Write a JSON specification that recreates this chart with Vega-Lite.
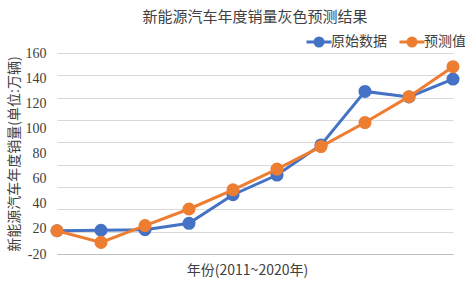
{
  "$schema": "https://vega.github.io/schema/vega-lite/v6.json",
  "autosize": "none",
  "width": 396,
  "height": 201,
  "padding": {"left": 57, "top": 53, "right": 12, "bottom": 29},
  "background": "white",
  "config": {"view": {"stroke": null}},
  "title": {
    "text": "新能源汽车年度销量灰色预测结果",
    "font": "Noto Sans CJK SC",
    "fontSize": 15,
    "fontWeight": "normal",
    "color": "#404040",
    "anchor": "middle",
    "offset": 3
  },
  "data": {
    "values": [
      {"year": "2011", "series": "原始数据", "value": 0.82},
      {"year": "2012", "series": "原始数据", "value": 1.28},
      {"year": "2013", "series": "原始数据", "value": 1.76},
      {"year": "2014", "series": "原始数据", "value": 7.48},
      {"year": "2015", "series": "原始数据", "value": 33.1},
      {"year": "2016", "series": "原始数据", "value": 50.7},
      {"year": "2017", "series": "原始数据", "value": 77.7},
      {"year": "2018", "series": "原始数据", "value": 125.6},
      {"year": "2019", "series": "原始数据", "value": 120.6},
      {"year": "2020", "series": "原始数据", "value": 136.7},
      {"year": "2011", "series": "预测值", "value": 0.82},
      {"year": "2012", "series": "预测值", "value": -9.6},
      {"year": "2013", "series": "预测值", "value": 5.4},
      {"year": "2014", "series": "预测值", "value": 20.3},
      {"year": "2015", "series": "预测值", "value": 37.5},
      {"year": "2016", "series": "预测值", "value": 56.0},
      {"year": "2017", "series": "预测值", "value": 76.2},
      {"year": "2018", "series": "预测值", "value": 97.7},
      {"year": "2019", "series": "预测值", "value": 120.9},
      {"year": "2020", "series": "预测值", "value": 147.7}
    ]
  },
  "encoding": {
    "x": {
      "field": "year",
      "type": "ordinal",
      "scale": {"type": "point", "padding": 0},
      "axis": {
        "title": "年份(2011~2020年)",
        "titleFont": "Noto Sans CJK SC",
        "titleFontSize": 14,
        "titleFontWeight": "normal",
        "titleColor": "#404040",
        "titlePadding": 9,
        "titleX": 190,
        "labels": false,
        "ticks": false,
        "domain": false,
        "grid": false
      }
    },
    "y": {
      "field": "value",
      "type": "quantitative",
      "scale": {"domain": [-20, 160], "nice": false, "zero": false},
      "axis": null
    },
    "color": {
      "field": "series",
      "type": "nominal",
      "scale": {"domain": ["原始数据", "预测值"], "range": ["#4472C4", "#ED7D31"]},
      "legend": {
        "title": null,
        "orient": "none",
        "direction": "horizontal",
        "legendX": 248,
        "legendY": -25,
        "symbolType": "M-1,0H1M-0.32,0A0.32,0.32 0 1,1 0.32,0A0.32,0.32 0 1,1 -0.32,0Z",
        "symbolSize": 625,
        "symbolStrokeWidth": 3,
        "labelFont": "Noto Sans CJK SC",
        "labelFontSize": 14,
        "labelColor": "#404040",
        "labelOffset": -2,
        "columnPadding": 6
      }
    }
  },
  "layer": [
    {
      "transform": [{"filter": "datum.series === '原始数据'"}],
      "mark": {"type": "line", "strokeWidth": 3},
      "encoding": {
        "y": {
          "field": "value",
          "type": "quantitative",
          "axis": {
            "orient": "left",
            "values": [-20, 0, 20, 40, 60, 80, 100, 120, 140, 160],
            "labels": false,
            "ticks": false,
            "domain": false,
            "title": null,
            "grid": true,
            "gridColor": {"condition": {"test": "datum.value === -20", "value": "#bfbfbf"}, "value": "#d9d9d9"},
            "gridWidth": 1
          }
        }
      }
    },
    {
      "transform": [{"filter": "datum.series === '原始数据'"}],
      "mark": {"type": "point", "filled": true, "opacity": 1, "size": 170},
      "encoding": {
        "y": {
          "field": "value",
          "type": "quantitative",
          "axis": {
            "orient": "left",
            "values": [160, 137.6, 115.2, 92.8, 70.4, 48, 25.6, 3.2, -20],
            "labelExpr": "datum.value === -20 ? '-20' : format(round((datum.value - 3.2) / 22.4) * 20 + 20, 'd')",
            "labelFont": "Liberation Serif",
            "labelFontSize": 14,
            "labelColor": "#404040",
            "labelPadding": 11,
            "ticks": false,
            "domain": false,
            "grid": false,
            "title": "新能源汽车年度销量(单位:万辆)",
            "titleFont": "Noto Sans CJK SC",
            "titleFontSize": 14,
            "titleFontWeight": "normal",
            "titleColor": "#404040",
            "titlePadding": 4
          }
        }
      }
    },
    {
      "transform": [{"filter": "datum.series === '预测值'"}],
      "mark": {"type": "line", "strokeWidth": 3},
      "encoding": {}
    },
    {
      "transform": [{"filter": "datum.series === '预测值'"}],
      "mark": {"type": "point", "filled": true, "opacity": 1, "size": 170},
      "encoding": {}
    }
  ],
  "resolve": {"axis": {"y": "independent"}}
}
